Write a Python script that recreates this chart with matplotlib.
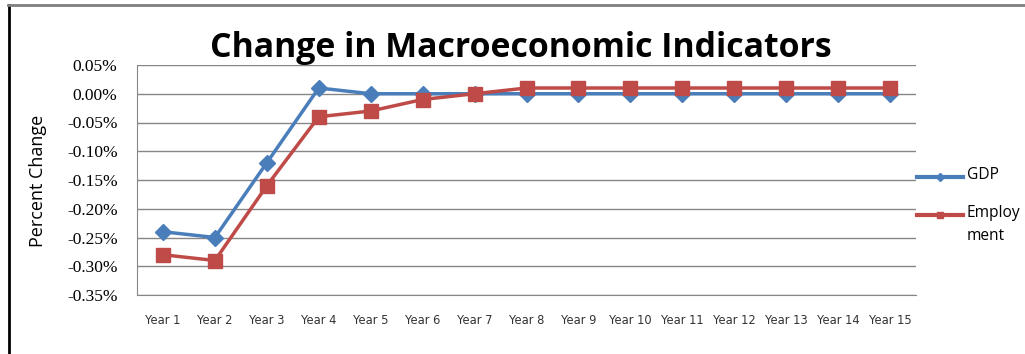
import matplotlib
matplotlib.use("Agg")
import matplotlib.pyplot as plt
from matplotlib.lines import Line2D

years = [f"Year {i}" for i in range(1, 16)]
gdp = [-0.24, -0.25, -0.12, 0.01, 0.00, 0.00, 0.00, 0.00, 0.00, 0.00, 0.00, 0.00, 0.00, 0.00, 0.00]
employment = [-0.28, -0.29, -0.16, -0.04, -0.03, -0.01, 0.00, 0.01, 0.01, 0.01, 0.01, 0.01, 0.01, 0.01, 0.01]
y_ticks = [0.05, 0.00, -0.05, -0.10, -0.15, -0.20, -0.25, -0.30, -0.35]

blue = "#4A7EBB"
red = "#BE4B48"

W, H = 1025, 354
fig = plt.figure(figsize=(W / 100, H / 100), dpi=100)
ax = fig.add_axes([137 / W, 1 - 295 / H, (916 - 137) / W, (295 - 65) / H])

x = list(range(len(years)))
ax.plot(x, gdp, color=blue, lw=2.5, marker="D", ms=8.5, mfc=blue, mec=blue, zorder=3)
ax.plot(x, employment, color=red, lw=2.5, marker="s", ms=10, mfc=red, mec=red, zorder=4)

ax.set_xlim(-0.5, len(years) - 0.5)
ax.set_ylim(-0.35, 0.05)
ax.set_yticks(y_ticks)
ax.set_yticklabels([f"{v:.2f}%" for v in y_ticks], family="Liberation Serif", fontsize=12.5)
ax.set_xticks(x)
ax.set_xticklabels(years, family="DejaVu Sans", fontsize=8.3, color="#333333")
ax.tick_params(axis="both", length=0)
ax.tick_params(axis="x", pad=14)
ax.tick_params(axis="y", pad=14)
ax.grid(axis="y", color="#868686", lw=1)
ax.set_axisbelow(True)
for s in ["top", "right"]:
    ax.spines[s].set_visible(False)
for s in ["left", "bottom"]:
    ax.spines[s].set_color("#868686")

fig.text(38 / W, 1 - 181 / H, "Percent Change", rotation=90, ha="center", va="center",
         family="Open Sans", fontsize=13)
fig.text(521 / W, 1 - 48 / H, "Change in Macroeconomic Indicators", ha="center", va="center",
         family="Open Sans", fontweight="bold", fontsize=24.4)

# legend
for (y, col, mk, ms, lab) in [(177, blue, "D", 4, "GDP"), (215, red, "s", 5, "Employ\nment")]:
    fig.add_artist(Line2D([917 / W, 963 / W], [1 - y / H, 1 - y / H], color=col, lw=3,
                          transform=fig.transFigure))
    fig.add_artist(Line2D([940 / W], [1 - y / H], color=col, marker=mk, ms=ms,
                          transform=fig.transFigure))
    fig.text(967 / W, 1 - (y - 10) / H, lab, ha="left", va="top", family="Open Sans",
             fontsize=11.2, linespacing=1.55)

# frame
fig.add_artist(Line2D([9 / W, 9 / W], [0, 1 - 5 / H], color="black", lw=2, transform=fig.transFigure))
fig.add_artist(Line2D([8 / W, 1], [1 - 5 / H, 1 - 5 / H], color="#7f7f7f", lw=2, transform=fig.transFigure))

fig.savefig("out.png", dpi=100)
